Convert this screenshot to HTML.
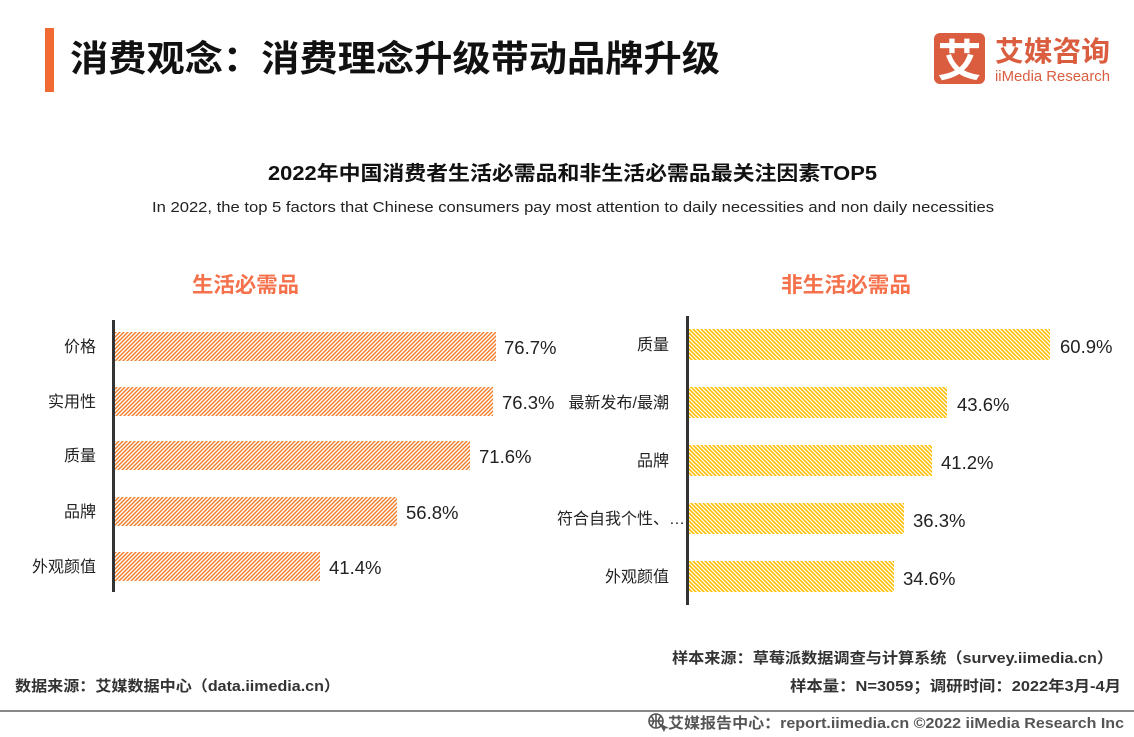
<!DOCTYPE html>
<html><head><meta charset="utf-8"><style>
html,body{margin:0;padding:0;background:#fff;}
svg{display:block;}
text{font-family:"Liberation Sans","Noto Sans CJK SC",sans-serif;}
</style></head><body>
<svg width="1134" height="737" viewBox="0 0 1134 737" xmlns="http://www.w3.org/2000/svg">
<defs>
<pattern id="po" patternUnits="userSpaceOnUse" width="4" height="4">
<rect width="4" height="4" fill="#fff"/>
<path d="M-1,1 L1,-1 M0,4 L4,0 M3,5 L5,3" stroke="#F07F2E" stroke-width="1.5"/>
</pattern>
<pattern id="py" patternUnits="userSpaceOnUse" width="4" height="4">
<rect width="4" height="4" fill="#fff"/>
<path d="M-1,3 L1,5 M0,0 L4,4 M3,-1 L5,1" stroke="#FFBE00" stroke-width="1.6"/>
</pattern>
</defs>

<!-- header -->
<rect x="45" y="28" width="9" height="64" fill="#F26A33"/>
<text x="70" y="71" font-size="36" font-weight="bold" fill="#111" textLength="650" lengthAdjust="spacingAndGlyphs">消费观念：消费理念升级带动品牌升级</text>

<!-- logo -->
<rect x="934" y="33" width="51" height="51" rx="6" fill="#D95D3E"/>
<text x="959.5" y="76" font-size="44" font-weight="bold" fill="#fff" text-anchor="middle">艾</text>
<text x="995" y="61" font-size="28" font-weight="bold" fill="#D95D3E" textLength="115" lengthAdjust="spacingAndGlyphs">艾媒咨询</text>
<text x="995" y="81" font-size="15" fill="#D95D3E" textLength="115" lengthAdjust="spacingAndGlyphs">iiMedia Research</text>

<!-- chart titles -->
<text x="268" y="180" font-size="20" font-weight="bold" fill="#111" textLength="609" lengthAdjust="spacingAndGlyphs">2022年中国消费者生活必需品和非生活必需品最关注因素TOP5</text>
<text x="152" y="212" font-size="15" fill="#222" textLength="842" lengthAdjust="spacingAndGlyphs">In 2022, the top 5 factors that Chinese consumers pay most attention to daily necessities and non daily necessities</text>

<text x="192" y="292" font-size="21" font-weight="bold" fill="#F5714B" textLength="107" lengthAdjust="spacingAndGlyphs">生活必需品</text>
<text x="781" y="292" font-size="21" font-weight="bold" fill="#F5714B" textLength="130" lengthAdjust="spacingAndGlyphs">非生活必需品</text>

<!-- left chart -->
<g>
<rect x="115" y="332" width="381" height="29" fill="url(#po)"/>
<rect x="115" y="387" width="378" height="29" fill="url(#po)"/>
<rect x="115" y="441" width="355" height="29" fill="url(#po)"/>
<rect x="115" y="497" width="282" height="29" fill="url(#po)"/>
<rect x="115" y="552" width="205" height="29" fill="url(#po)"/>
<rect x="112" y="320" width="3" height="272" fill="#333"/>
<g font-size="16" fill="#222" text-anchor="end">
<text x="96" y="352">价格</text>
<text x="96" y="407">实用性</text>
<text x="96" y="461">质量</text>
<text x="96" y="517">品牌</text>
<text x="96" y="572">外观颜值</text>
</g>
<g font-size="18.5" fill="#222">
<text x="504" y="354">76.7%</text>
<text x="502" y="409">76.3%</text>
<text x="479" y="463">71.6%</text>
<text x="406" y="519">56.8%</text>
<text x="329" y="574">41.4%</text>
</g>
</g>

<!-- right chart -->
<g>
<rect x="689" y="329" width="361" height="31" fill="url(#py)"/>
<rect x="689" y="387" width="258" height="31" fill="url(#py)"/>
<rect x="689" y="445" width="243" height="31" fill="url(#py)"/>
<rect x="689" y="503" width="215" height="31" fill="url(#py)"/>
<rect x="689" y="561" width="205" height="31" fill="url(#py)"/>
<rect x="686" y="316" width="3" height="289" fill="#333"/>
<g font-size="16" fill="#222" text-anchor="end">
<text x="669" y="350">质量</text>
<text x="669" y="408">最新发布/最潮</text>
<text x="669" y="466">品牌</text>
<text x="685" y="524">符合自我个性、…</text>
<text x="669" y="582">外观颜值</text>
</g>
<g font-size="18.5" fill="#222">
<text x="1060" y="353">60.9%</text>
<text x="957" y="411">43.6%</text>
<text x="941" y="469">41.2%</text>
<text x="913" y="527">36.3%</text>
<text x="903" y="585">34.6%</text>
</g>
</g>

<!-- footer -->
<text x="672" y="663" font-size="15" font-weight="bold" fill="#333" textLength="441" lengthAdjust="spacingAndGlyphs">样本来源：草莓派数据调查与计算系统（survey.iimedia.cn）</text>
<text x="790" y="691" font-size="15" font-weight="bold" fill="#333" textLength="331" lengthAdjust="spacingAndGlyphs">样本量：N=3059；调研时间：2022年3月-4月</text>
<text x="15" y="691" font-size="15" font-weight="bold" fill="#333" textLength="325" lengthAdjust="spacingAndGlyphs">数据来源：艾媒数据中心（data.iimedia.cn）</text>

<rect x="0" y="710" width="1134" height="2" fill="#888"/>

<g fill="none" stroke="#555" stroke-width="1.6">
<circle cx="656" cy="721" r="7"/>
<path d="M649,721 H663 M656,714 V728 M651,716 Q656,721 651,726 M661,716 Q656,721 661,726"/>
</g>
<path d="M659,723 L664,732 L665.5,728.5 L669,728 Z" fill="#555"/>
<text x="668" y="728" font-size="15" font-weight="bold" fill="#555" textLength="456" lengthAdjust="spacingAndGlyphs">艾媒报告中心：report.iimedia.cn  ©2022  iiMedia Research  Inc</text>
</svg>
</body></html>
